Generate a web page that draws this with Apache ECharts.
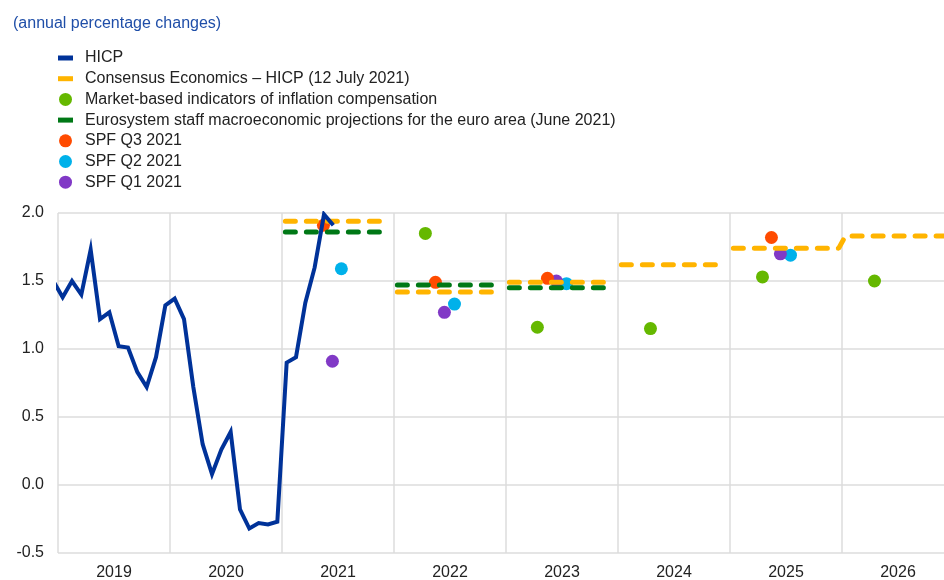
<!DOCTYPE html>
<html lang="en">
<head>
    <meta charset="UTF-8">
    <title>HICP and inflation expectations</title>
    <style>
        html, body { margin: 0; padding: 0; background: #fff; }
        #main { width: 944px; height: 580px; }
    </style>
    <script src="https://cdn.jsdelivr.net/npm/echarts@6/dist/echarts.min.js"></script>
</head>
<body>

    <div id="main"></div>

    <script>
        // x positions are decimal years (mid-month for monthly data)
        const years = ['2019', '2020', '2021', '2022', '2023', '2024', '2025', '2026'];

        // HICP, Dec 2018 - Jun 2021
        const hicpStart = 2018 + 11.5 / 12;
        const hicpValues = [1.50, 1.38, 1.50, 1.40, 1.73, 1.22, 1.27, 1.02, 1.01, 0.83, 0.72, 0.94, 1.32,
            1.37, 1.22, 0.72, 0.30, 0.08, 0.26, 0.39, -0.18, -0.32, -0.28, -0.29, -0.27,
            0.90, 0.94, 1.34, 1.60, 1.99, 1.91];

        const consensusYears = [2021, 2022, 2023, 2024, 2025, 2026];
        const consensusValues = [1.94, 1.42, 1.49, 1.62, 1.74, 1.83];

        const projYears = [2021, 2022, 2023];
        const projValues = [1.86, 1.47, 1.45];

        const marketPoints = [[2022.28, 1.85], [2023.28, 1.16], [2024.29, 1.15], [2025.29, 1.53], [2026.29, 1.50]];
        const spfQ3 = [[2021.37, 1.91], [2022.37, 1.49], [2023.37, 1.52], [2025.37, 1.82]];
        const spfQ2 = [[2021.53, 1.59], [2022.54, 1.33], [2023.54, 1.48], [2025.54, 1.69]];
        const spfQ1 = [[2021.45, 0.91], [2022.45, 1.27], [2023.45, 1.50], [2025.45, 1.70]];

        const yTicks = [-0.5, 0, 0.5, 1, 1.5, 2];

        let hicpData = [];
        for (let i = 0; i < hicpValues.length; i++) {
            hicpData.push([hicpStart + i / 12, hicpValues[i]]);
        }

        // yearly averages drawn as flat dashed segments, broken between years
        // unless the year is listed in joinAfter
        function yearSegments(yrs, vals, joinAfter) {
            let out = [];
            for (let i = 0; i < yrs.length; i++) {
                let joined = i < yrs.length - 1 && joinAfter.indexOf(yrs[i]) >= 0;
                out.push([yrs[i] + 0.03, vals[i]]);
                out.push([yrs[i] + (joined ? 0.97 : 0.93), vals[i]]);
                if (i < yrs.length - 1 && !joined) {
                    out.push([yrs[i] + 0.985, '-']);
                }
            }
            return out;
        }

        let chartDom = document.getElementById('main');
        let myChart = echarts.init(chartDom);

        const dashStyle = function (color) {
            return { color: color, width: 5, type: [10, 11], cap: 'round' };
        };
        const dotStyle = function (color) {
            return { color: color, opacity: 1 };
        };
        const barIcon = 'path://M0,0h15v5h-15z';

        let option = {
            animation: false,
            textStyle: { fontFamily: 'Liberation Sans, Arial, sans-serif' },
            title: {
                text: '(annual percentage changes)',
                left: 8,
                top: 11,
                textStyle: { fontSize: 16, fontWeight: 'normal', color: '#1f4ea8' }
            },
            legend: {
                orient: 'vertical',
                left: 53,
                top: 45,
                itemWidth: 15,
                itemHeight: 13,
                itemGap: 4.7,
                textStyle: { fontSize: 16, color: '#222', padding: [0, 0, 0, 7] },
                data: [
                    { name: 'HICP', icon: barIcon },
                    { name: 'Consensus Economics – HICP (12 July 2021)', icon: barIcon },
                    { name: 'Market-based indicators of inflation compensation', icon: 'circle' },
                    { name: 'Eurosystem staff macroeconomic projections for the euro area (June 2021)', icon: barIcon },
                    { name: 'SPF Q3 2021', icon: 'circle' },
                    { name: 'SPF Q2 2021', icon: 'circle' },
                    { name: 'SPF Q1 2021', icon: 'circle' }
                ]
            },
            grid: { left: 58, width: 896, top: 213, bottom: 27, outerBoundsMode: 'none', containLabel: false },
            xAxis: [{
                type: 'category',
                data: years,
                boundaryGap: true,
                axisLine: { show: false },
                axisTick: { show: false },
                axisLabel: { fontSize: 16, color: '#222', margin: 12 },
                splitLine: { show: true, lineStyle: { color: '#dcdcdc', width: 1.5 } }
            }, {
                type: 'value',
                min: 2019,
                max: 2027,
                show: false,
                splitLine: { show: false }
            }],
            yAxis: {
                type: 'value',
                min: yTicks[0],
                max: yTicks[yTicks.length - 1],
                interval: 0.5,
                axisLine: { show: false },
                axisTick: { show: false },
                axisLabel: {
                    fontSize: 16, color: '#222', margin: 14,
                    formatter: function (v) { return v.toFixed(1); }
                },
                splitLine: { lineStyle: { color: '#dcdcdc', width: 1.5 } }
            },
            series: [{
                name: 'Consensus Economics – HICP (12 July 2021)',
                type: 'line',
                xAxisIndex: 1,
                symbol: 'none',
                connectNulls: false,
                lineStyle: dashStyle('#ffb400'),
                itemStyle: { color: '#ffb400' },
                data: yearSegments(consensusYears, consensusValues, [2025])
            }, {
                name: 'Eurosystem staff macroeconomic projections for the euro area (June 2021)',
                type: 'line',
                xAxisIndex: 1,
                symbol: 'none',
                lineStyle: dashStyle('#007816'),
                itemStyle: { color: '#007816' },
                data: yearSegments(projYears, projValues, [])
            }, {
                name: 'HICP',
                type: 'line',
                xAxisIndex: 1,
                symbol: 'none',
                lineStyle: { color: '#003299', width: 4, join: 'miter' },
                itemStyle: { color: '#003299' },
                data: hicpData
            }, {
                name: 'Market-based indicators of inflation compensation',
                type: 'scatter',
                xAxisIndex: 1,
                symbolSize: 13,
                itemStyle: dotStyle('#65b800'),
                data: marketPoints
            }, {
                name: 'SPF Q2 2021',
                type: 'scatter',
                xAxisIndex: 1,
                symbolSize: 13,
                itemStyle: dotStyle('#00b1ea'),
                data: spfQ2
            }, {
                name: 'SPF Q1 2021',
                type: 'scatter',
                xAxisIndex: 1,
                symbolSize: 13,
                itemStyle: dotStyle('#8139c6'),
                data: spfQ1
            }, {
                name: 'SPF Q3 2021',
                type: 'scatter',
                xAxisIndex: 1,
                symbolSize: 13,
                itemStyle: dotStyle('#ff4b00'),
                data: spfQ3
            }]
        };

        myChart.setOption(option);
    </script>

</body>
</html>
